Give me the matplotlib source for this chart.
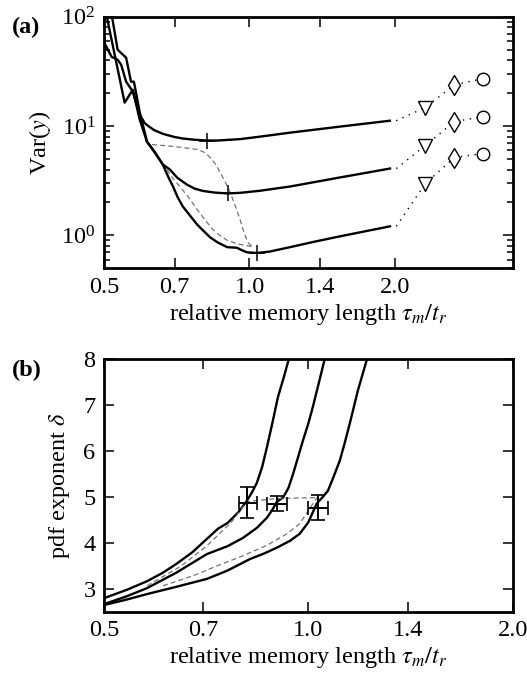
import numpy as np
import matplotlib
matplotlib.use("Agg")
import matplotlib.pyplot as plt
from matplotlib.ticker import FixedLocator, FixedFormatter, NullLocator, LogLocator

plt.rcParams['font.family'] = 'serif'
plt.rcParams['font.serif'] = ['Liberation Serif', 'DejaVu Serif']
plt.rcParams['mathtext.fontset'] = 'stix'

# ---- panel (a): Var(y) vs relative memory length ----
var_top_x = [0.5, 0.519, 0.534, 0.543, 0.556, 0.574, 0.593, 0.608, 0.62, 0.635, 0.662, 0.70,
             0.728, 0.77, 0.816, 0.86, 0.911, 0.956, 1.05, 1.21, 1.54, 1.95]
var_top_y = [59, 43, 40.5, 36.5, 25.5, 20.7, 12.7, 10.6, 9.9, 9.2, 8.5, 7.95,
             7.7, 7.5, 7.38, 7.38, 7.5, 7.6, 8.0, 8.7, 9.9, 11.2]
var_mid_x = [0.505, 0.552, 0.574, 0.593, 0.614, 0.631, 0.662, 0.685, 0.708, 0.742,
             0.77, 0.801, 0.85, 0.902, 0.956, 1.051, 1.213, 1.539, 1.952]
var_mid_y = [110, 16.4, 21.5, 11.5, 7.2, 6.1, 4.45, 4.0, 3.39, 2.92,
             2.68, 2.55, 2.46, 2.42, 2.45, 2.56, 2.80, 3.39, 4.09]
var_bot_x = [0.519, 0.534, 0.556, 0.569, 0.577, 0.593, 0.614, 0.638, 0.662, 0.68, 0.695,
             0.71, 0.728, 0.755, 0.779, 0.805, 0.829, 0.86, 0.899, 0.942, 0.965, 0.988,
             1.036, 1.10, 1.213, 1.37, 1.539, 1.952]
var_bot_y = [105, 50, 42.3, 25.5, 25.5, 13.5, 7.2, 5.75, 4.45, 3.4, 2.80,
             2.25, 1.84, 1.50, 1.26, 1.09, 0.96, 0.86, 0.78, 0.77, 0.73, 0.70,
             0.69, 0.71, 0.78, 0.88, 0.98, 1.21]

# minima marked with "+"
var_min_x = [0.816, 0.902, 1.035]
var_min_y = [7.38, 2.42, 0.69]

# dashed guide curves (a)
dash_a1_x = [0.629, 0.70, 0.783, 0.81, 0.829, 0.85, 0.868, 0.89, 0.911, 0.935, 0.956, 0.975, 0.993, 1.012]
dash_a1_y = [6.78, 6.5, 6.1, 5.7, 5.16, 4.5, 3.84, 3.1, 2.52, 1.85, 1.40, 1.05, 0.86, 0.79]
dash_a2_x = [0.675, 0.695, 0.718, 0.75, 0.779, 0.81, 0.840, 0.87, 0.90, 0.95, 1.012]
dash_a2_y = [4.0, 3.3, 2.80, 2.2, 1.73, 1.38, 1.13, 0.99, 0.90, 0.83, 0.79]

# limiting cases shown as symbols beyond 2.0
lim_x = [2.31, 2.65, 3.04]
lim_top = [14.8, 23.9, 27.2]
lim_mid = [6.64, 11.0, 12.2]
lim_bot = [2.98, 5.16, 5.61]
lim_markers = ['v', 'd', 'o']

# ---- panel (b): pdf exponent vs relative memory length ----
pdf_1_x = [0.5, 0.54, 0.579, 0.61, 0.640, 0.675, 0.709, 0.736, 0.761, 0.79, 0.812,
           0.826, 0.840, 0.855, 0.869, 0.885, 0.902, 0.92, 0.936]
pdf_1_y = [2.80, 2.98, 3.17, 3.35, 3.55, 3.80, 4.09, 4.31, 4.44, 4.68, 4.92,
           5.10, 5.31, 5.65, 6.08, 6.60, 7.17, 7.6, 8.0]
pdf_2_x = [0.5, 0.54, 0.579, 0.64, 0.709, 0.76, 0.801, 0.84, 0.869, 0.885, 0.899, 0.918,
           0.935, 0.950, 0.965, 0.982, 1.0, 1.015, 1.035, 1.057]
pdf_2_y = [2.67, 2.84, 3.02, 3.36, 3.76, 3.93, 4.11, 4.33, 4.55, 4.72, 4.90, 4.99,
           5.2, 5.51, 5.85, 6.23, 6.6, 6.95, 7.45, 8.0]
pdf_3_x = [0.5, 0.54, 0.579, 0.64, 0.709, 0.76, 0.820, 0.86, 0.899, 0.94, 0.971, 1.0,
           1.029, 1.05, 1.069, 1.09, 1.113, 1.13, 1.151, 1.183, 1.220]
pdf_3_y = [2.65, 2.77, 2.89, 3.05, 3.22, 3.40, 3.65, 3.77, 3.90, 4.05, 4.20, 4.45,
           4.86, 5.0, 5.14, 5.45, 5.80, 6.15, 6.60, 7.32, 8.0]

# measured exponents with error bars
eb_x = [0.812, 0.899, 1.032]
eb_y = [4.88, 4.86, 4.77]
eb_xlo = [0.022, 0.029, 0.032]
eb_xhi = [0.028, 0.031, 0.037]
eb_yerr = [0.34, 0.17, 0.27]

dash_b1_x = [0.579, 0.65, 0.709, 0.77, 0.812, 0.90, 1.03]
dash_b1_y = [3.07, 3.5, 3.94, 4.45, 4.9, 4.97, 4.99]
dash_b2_x = [0.611, 0.68, 0.733, 0.80, 0.869, 0.93, 0.971, 1.03]
dash_b2_y = [3.07, 3.3, 3.5, 3.72, 3.95, 4.2, 4.42, 4.99]

xticks = [0.5, 0.7, 1.0, 1.4, 2.0]
xticklabels = ['0.5', '0.7', '1.0', '1.4', '2.0']

fs = 17.5

fig = plt.figure(figsize=(5.27, 6.74), dpi=100)
ax_a = fig.add_axes([0.197, 0.602, 0.776, 0.373])
ax_b = fig.add_axes([0.197, 0.092, 0.776, 0.375])

lw = 1.7
gray = '0.45'

# (a)
for xs, ys in [(var_top_x, var_top_y), (var_mid_x, var_mid_y), (var_bot_x, var_bot_y)]:
    ax_a.plot(xs, ys, color='k', lw=lw)
ax_a.plot(dash_a1_x, dash_a1_y, color=gray, lw=0.9, dashes=(4, 2.5))
ax_a.plot(dash_a2_x, dash_a2_y, color=gray, lw=0.9, dashes=(4, 2.5))
ax_a.plot(var_min_x, var_min_y, ls='none', marker='+', ms=12, mew=1.1, color='k')

for xs, ys, lim in [(var_top_x, var_top_y, lim_top), (var_mid_x, var_mid_y, lim_mid),
                    (var_bot_x, var_bot_y, lim_bot)]:
    ax_a.plot([xs[-1] * 1.03] + lim_x, [ys[-1]] + lim, color='k', lw=1.0,
              ls=(0, (1, 4)))
    for mx, my, mk in zip(lim_x, lim, lim_markers):
        ax_a.plot(mx, my, marker=mk, ms=10 if mk != 'o' else 9, mfc='white',
                  mec='k', mew=1.0, ls='none', zorder=5)

ax_a.set_xscale('log')
ax_a.set_yscale('log')
ax_a.set_xlim(0.5, 3.5)
ax_a.set_ylim(0.5, 100)
ax_a.set_ylabel('Var($y$)', fontsize=fs, labelpad=6)
ax_a.set_xlabel(r'relative memory length $\tau_m/t_r$', fontsize=fs, labelpad=3)
ax_a.yaxis.set_minor_locator(LogLocator(base=10, subs=np.arange(2, 10)))

# (b)
for xs, ys in [(pdf_1_x, pdf_1_y), (pdf_2_x, pdf_2_y), (pdf_3_x, pdf_3_y)]:
    ax_b.plot(xs, ys, color='k', lw=lw)
ax_b.plot(dash_b1_x, dash_b1_y, color=gray, lw=0.9, dashes=(4, 2.5))
ax_b.plot(dash_b2_x, dash_b2_y, color=gray, lw=0.9, dashes=(4, 2.5))
ax_b.errorbar(eb_x, eb_y, xerr=[eb_xlo, eb_xhi], yerr=eb_yerr, fmt='none',
              ecolor='k', elinewidth=1.4, capsize=5, capthick=1.2, zorder=5)

ax_b.set_xscale('log')
ax_b.set_xlim(0.5, 2.0)
ax_b.set_ylim(2.5, 8)
ax_b.set_yticks([3, 4, 5, 6, 7, 8])
ax_b.set_ylabel(r'pdf exponent $\delta$', fontsize=fs, labelpad=8)
ax_b.set_xlabel(r'relative memory length $\tau_m/t_r$', fontsize=fs, labelpad=3)

for ax in (ax_a, ax_b):
    ax.xaxis.set_major_locator(FixedLocator(xticks))
    ax.xaxis.set_major_formatter(FixedFormatter(xticklabels))
    ax.xaxis.set_minor_locator(NullLocator())
    ax.tick_params(which='both', direction='in', top=True, right=True,
                   labelsize=fs, width=1.1)
    ax.tick_params(which='major', length=7, pad=6)
    ax.tick_params(which='minor', length=4)
    for s in ax.spines.values():
        s.set_linewidth(2.0)
ax_b.yaxis.set_minor_locator(NullLocator())

fig.text(0.022, 0.96, '(a)', fontsize=fs, fontweight='bold', va='center')
fig.text(0.022, 0.451, '(b)', fontsize=fs, fontweight='bold', va='center')

fig.savefig('out.png', dpi=100)
